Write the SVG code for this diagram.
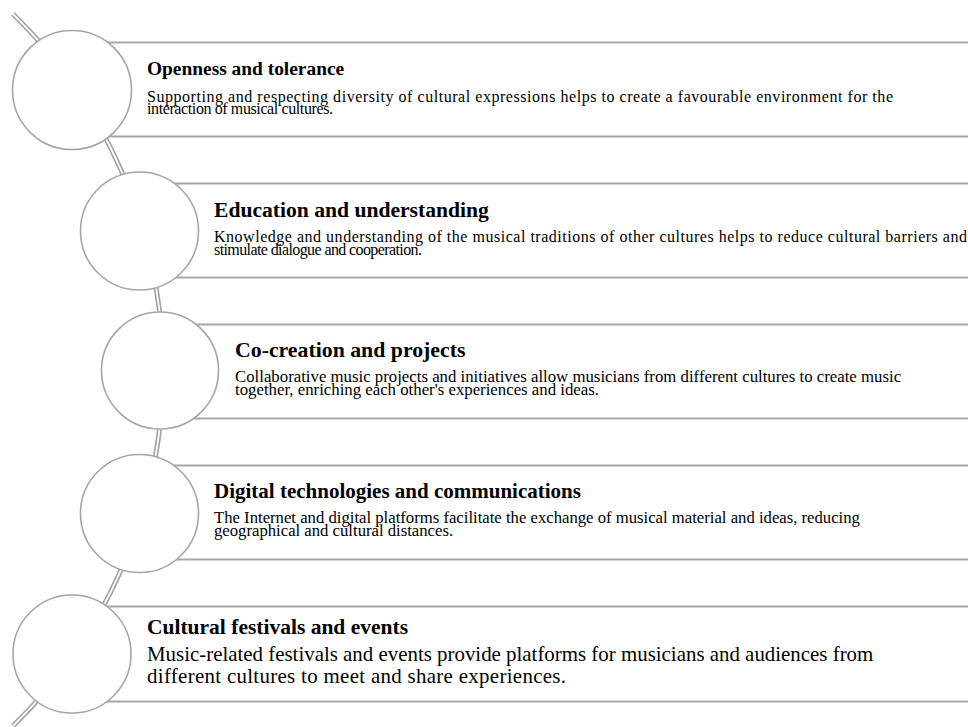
<svg xmlns="http://www.w3.org/2000/svg" width="968" height="727" viewBox="0 0 968 727">
<style>
.box{fill:#fff;stroke:#a6a6a6;stroke-width:2}
.circ{fill:#fff;stroke:#a6a6a6;stroke-width:1.6}
.t{font-family:"Liberation Serif","Times New Roman",serif;font-weight:bold;fill:#000}
.b{font-family:"Liberation Serif","Times New Roman",serif;fill:#000}
</style>
<rect width="968" height="727" fill="#fff"/>
<g id="connectors">
<path d="M13,14 A497.5,497.5 0 0 1 13,726" fill="none" stroke="#a0a0a0" stroke-width="5"/>
<path d="M13,14 A497.5,497.5 0 0 1 13,726" fill="none" stroke="#fff" stroke-width="1.8"/>
</g>
<g id="node1">
<rect class="box" x="72" y="42.5" width="940" height="94"/>
<circle class="circ" cx="72" cy="90" r="59.5"/>
<text class="t" x="147" y="75" font-size="19.4">Openness and tolerance</text>
<text class="b" x="147" y="101.5" font-size="16" textLength="746" lengthAdjust="spacing">Supporting and respecting diversity of cultural expressions helps to create a favourable environment for the</text>
<text class="b" x="147" y="114" font-size="16" textLength="186" lengthAdjust="spacing">interaction of musical cultures.</text>
</g>
<g id="node2">
<rect class="box" x="139.5" y="183.5" width="870" height="94"/>
<circle class="circ" cx="139.5" cy="231" r="59"/>
<text class="t" x="214" y="216.5" font-size="21.6">Education and understanding</text>
<text class="b" x="214" y="242" font-size="16" textLength="753" lengthAdjust="spacing">Knowledge and understanding of the musical traditions of other cultures helps to reduce cultural barriers and</text>
<text class="b" x="214" y="255" font-size="16" textLength="208" lengthAdjust="spacing">stimulate dialogue and cooperation.</text>
</g>
<g id="node3">
<rect class="box" x="160" y="324.5" width="850" height="94"/>
<circle class="circ" cx="160" cy="370.5" r="58.5"/>
<text class="t" x="235" y="357" font-size="21.8">Co-creation and projects</text>
<text class="b" x="235" y="382" font-size="16.8">Collaborative music projects and initiatives allow musicians from different cultures to create music</text>
<text class="b" x="235" y="395" font-size="16.8">together, enriching each other's experiences and ideas.</text>
</g>
<g id="node4">
<rect class="box" x="139.5" y="465.5" width="870" height="94"/>
<circle class="circ" cx="139.5" cy="513.5" r="59"/>
<text class="t" x="214" y="498" font-size="21">Digital technologies and communications</text>
<text class="b" x="214" y="523" font-size="16.7">The Internet and digital platforms facilitate the exchange of musical material and ideas, reducing</text>
<text class="b" x="214" y="536" font-size="16.7">geographical and cultural distances.</text>
</g>
<g id="node5">
<rect class="box" x="72" y="606.5" width="940" height="95"/>
<circle class="circ" cx="72" cy="654" r="59"/>
<text class="t" x="147" y="634" font-size="21.5">Cultural festivals and events</text>
<text class="b" x="147" y="661" font-size="20.9">Music-related festivals and events provide platforms for musicians and audiences from</text>
<text class="b" x="147" y="683" font-size="20.9" textLength="419" lengthAdjust="spacing">different cultures to meet and share experiences.</text>
</g>
</svg>
